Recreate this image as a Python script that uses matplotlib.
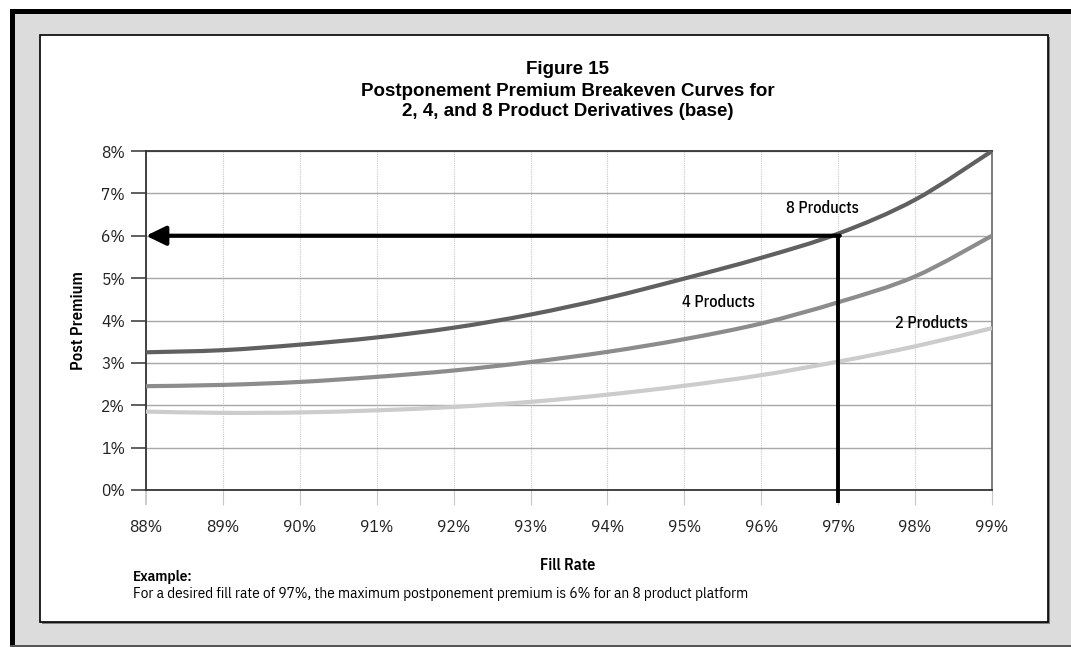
import matplotlib.pyplot as plt
from matplotlib.patches import Rectangle, PathPatch
from matplotlib.path import Path
from matplotlib.ticker import FuncFormatter

# data (values in %)
fill_rate = [88, 89, 90, 91, 92, 93, 94, 95, 96, 97, 98, 99]
prem_8 = [3.25, 3.30, 3.43, 3.60, 3.83, 4.14, 4.53, 4.99, 5.48, 6.05, 6.85, 8.0]
prem_4 = [2.45, 2.48, 2.55, 2.67, 2.82, 3.02, 3.26, 3.56, 3.93, 4.43, 5.04, 6.0]
prem_2 = [1.85, 1.82, 1.83, 1.88, 1.96, 2.08, 2.25, 2.46, 2.71, 3.03, 3.39, 3.82]
target_fill = 97
target_prem = 6
y_ticks = [0, 1, 2, 3, 4, 5, 6, 7, 8]

narrow = ['IBM Plex Sans Condensed', 'Liberation Sans', 'DejaVu Sans']
bold = ['Liberation Sans', 'DejaVu Sans']

W, H = 1071, 647
fig = plt.figure(figsize=(W / 100, H / 100), dpi=100)
fig.patch.set_facecolor('white')

def px_rect(x0, y0, x1, y1, **kw):
    # rectangle given in pixel coords from the top-left corner
    r = Rectangle((x0 / W, 1 - y1 / H), (x1 - x0) / W, (y1 - y0) / H,
                  transform=fig.transFigure, zorder=-5, **kw)
    fig.add_artist(r)

def smooth_line(ax, xs, ys, **kw):
    # excel-style smoothed line: cubic bezier segments through the points
    pts = list(zip(xs, ys))
    verts = [pts[0]]
    codes = [Path.MOVETO]
    n = len(pts)
    for i in range(n - 1):
        p0 = pts[max(i - 1, 0)]
        p1 = pts[i]
        p2 = pts[i + 1]
        p3 = pts[min(i + 2, n - 1)]
        c1 = (p1[0] + (p2[0] - p0[0]) / 6, p1[1] + (p2[1] - p0[1]) / 6)
        c2 = (p2[0] - (p3[0] - p1[0]) / 6, p2[1] - (p3[1] - p1[1]) / 6)
        verts += [c1, c2, p2]
        codes += [Path.CURVE4] * 3
    patch = PathPatch(Path(verts, codes), facecolor='none', **kw)
    ax.add_patch(patch)

# outer frame
px_rect(10, 9, W, H, facecolor='#dcdcdc', edgecolor='none')
px_rect(10, 9, W, 14, facecolor='black', edgecolor='none')
px_rect(10, 9, 15, H, facecolor='black', edgecolor='none')
px_rect(10, 645, W, H, facecolor='#555555', edgecolor='none')
# inner white panel with shadow
px_rect(42, 37, 1050, 624, facecolor='#808080', edgecolor='none')
px_rect(40, 35, 1048, 622, facecolor='white', edgecolor='black', linewidth=1.2)

# titles
for ty, line in [(70, 'Figure 15'),
                 (91, 'Postponement Premium Breakeven Curves for'),
                 (112, '2, 4, and 8 Product Derivatives (base)')]:
    fig.text(568 / W, 1 - ty / H, line, ha='center', va='center',
             fontsize=13.5, fontweight='bold', family=bold)

ax = fig.add_axes([146 / W, 1 - 490 / H, (992 - 146) / W, (490 - 151) / H])
ax.set_facecolor('white')

smooth_line(ax, fill_rate, prem_2, edgecolor='#cccccc', lw=3, zorder=3, capstyle='butt')
smooth_line(ax, fill_rate, prem_4, edgecolor='#8c8c8c', lw=3, zorder=3, capstyle='butt')
smooth_line(ax, fill_rate, prem_8, edgecolor='#606060', lw=3, zorder=3, capstyle='butt')

# example marker: vertical drop line and arrow back to the axis
ax.plot([target_fill, target_fill], [target_prem, -0.3], color='black', lw=2.8,
        clip_on=False, zorder=4, solid_capstyle='butt')
ax.annotate('', xy=(fill_rate[0], target_prem), xytext=(target_fill + 0.02, target_prem),
            arrowprops=dict(arrowstyle='-|>,head_length=0.7,head_width=0.34',
                            color='black', lw=3, mutation_scale=17,
                            shrinkA=0, shrinkB=0),
            zorder=5)

lab_kw = dict(ha='left', va='center', fontsize=11.8, fontweight='medium', family=narrow)
ax.text(96.32, 6.66, '8 Products', **lab_kw)
ax.text(94.97, 4.43, '4 Products', **lab_kw)
ax.text(97.74, 3.94, '2 Products', **lab_kw)

ax.set_xlim(88, 99)
ax.set_ylim(0, 8)
ax.set_xticks(fill_rate)
ax.set_yticks(y_ticks)
ax.xaxis.set_major_formatter(FuncFormatter(lambda v, p: '%d%%' % v))
ax.yaxis.set_major_formatter(FuncFormatter(lambda v, p: '%d%%' % v))

ax.grid(axis='y', color='#a8a8a8', lw=1, zorder=0)
ax.grid(axis='x', color='#c8c8c8', lw=0.8, linestyle=(0, (1, 1)), zorder=0)
ax.set_axisbelow(True)

for s in ['left', 'bottom', 'top']:
    ax.spines[s].set_color('#333333')
    ax.spines[s].set_linewidth(1.3)
ax.spines['right'].set_color('#666666')
ax.spines['right'].set_linewidth(1.2)

ax.tick_params(axis='y', direction='out', length=11, width=1.2, color='#444444',
               pad=4, labelsize=12.5)
ax.tick_params(axis='x', direction='out', length=11, width=0.8, color='#c8c8c8',
               pad=10, labelsize=12.5)
ax.xaxis.get_major_ticks()[0].tick1line.set_color('#333333')
ax.xaxis.get_major_ticks()[0].tick1line.set_markeredgewidth(1.3)
for lab in ax.get_xticklabels() + ax.get_yticklabels():
    lab.set_family(narrow)
    lab.set_color('#222222')

ax.set_ylabel('Post Premium', fontsize=12, fontweight='semibold', family=narrow,
              labelpad=11)
fig.text(568 / W, 1 - 565 / H, 'Fill Rate', ha='center', va='center', fontsize=11.5,
         fontweight='semibold', family=narrow)
fig.text(133 / W, 1 - 577 / H, 'Example:', ha='left', va='center', fontsize=10.9,
         fontweight='semibold', family=narrow)
fig.text(133 / W, 1 - 594 / H,
         'For a desired fill rate of 97%, the maximum postponement premium is 6% for an 8 product platform',
         ha='left', va='center', fontsize=11, family=narrow)

fig.savefig('out.png', dpi=100)
